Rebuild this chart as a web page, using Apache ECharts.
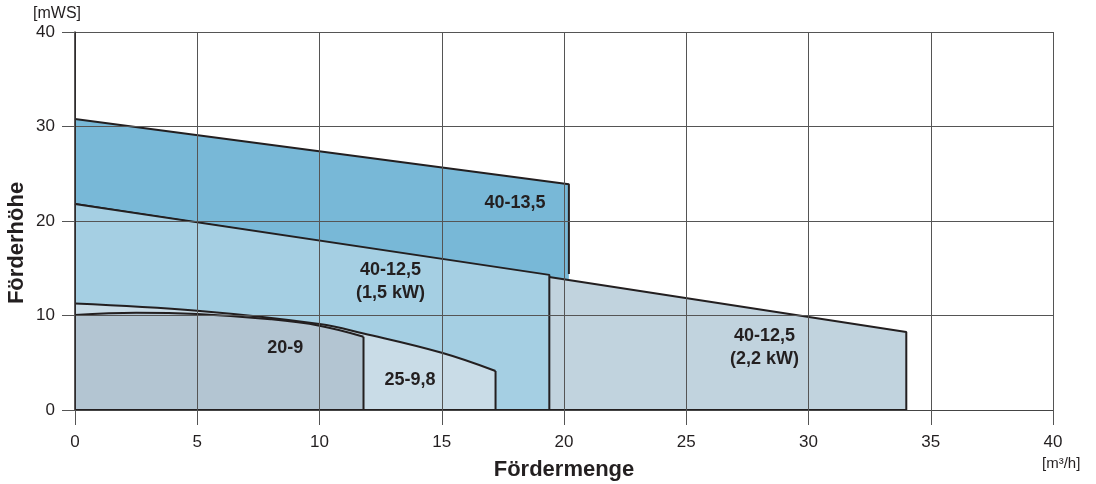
<!DOCTYPE html>
<html>
<head>
<meta charset="utf-8">
<script src="https://cdn.jsdelivr.net/npm/echarts@6/dist/echarts.min.js"></script>
<style>
  html, body { margin: 0; padding: 0; background: #fff; }
  #chart { width: 1096px; height: 484px; }
</style>
</head>
<body>
<div id="chart"></div>
<script>
// pump curves, [Q m3/h, H mWS]
const pump40_135 = [[0, 30.8], [20.2, 23.9], [20.2, 14.4]];
const pump40_125_22 = [[0, 21.8], [34.0, 8.25], [34.0, 0], [0, 0]];
const pump40_125_15 = [[0, 21.8], [19.4, 14.3], [19.4, 0], [0, 0]];
const pump25_98 = [[0, 11.27], [5, 10.5], [10, 9.1], [11.8, 8.1], [15, 6.06], [17.2, 4.13]];
const pump25_98_edge = [[17.2, 4.13], [17.2, 0], [0, 0]];
const pump20_9 = [[0, 10.05], [2.5, 10.3], [5, 10.16], [8, 9.6], [10, 8.92], [11.8, 7.76]];
const pump20_9_edge = [[11.8, 7.76], [11.8, 0], [0, 0]];

// pump names and where they sit
const tagNames = ["40-13,5", "40-12,5\n(2,2 kW)", "40-12,5\n(1,5 kW)", "25-9,8", "20-9"];
const tagCoords = [[18.0, 21.9], [28.2, 6.6], [12.9, 13.6], [13.7, 3.2], [8.6, 6.6]];

const xTicks = [0, 5, 10, 15, 20, 25, 30, 35, 40];
const yTicks = [0, 10, 20, 30, 40];

const font = "'Liberation Sans', Arial, sans-serif";
const ink = "#231f20";

function area(name, data, color, z, smooth) {
  return {
    name: name,
    type: "line",
    data: data,
    smooth: smooth ? 0.4 : false,
    symbol: "none",
    lineStyle: { color: ink, width: 2 },
    areaStyle: { color: color, opacity: 1 },
    z: z,
  };
}

function edge(data, z) {
  return {
    type: "line",
    data: data,
    symbol: "none",
    lineStyle: { color: ink, width: 2 },
    z: z,
  };
}

const chart = echarts.init(document.getElementById("chart"));
const option = {
  animation: false,
  grid: { left: 75, right: 43, top: 32, bottom: 74, outerBoundsMode: "none" },
  xAxis: {
    type: "value",
    min: xTicks[0],
    max: xTicks[xTicks.length - 1],
    interval: 5,
    z: 20,
    name: "Fördermenge",
    nameLocation: "middle",
    nameGap: 49,
    nameTextStyle: { fontFamily: font, fontWeight: "bold", fontSize: 22, color: ink },
    axisLine: { lineStyle: { color: "#444", width: 1 } },
    axisTick: { length: 15, lineStyle: { color: "#555", width: 1 } },
    axisLabel: { fontFamily: font, fontSize: 17, color: ink, margin: 24 },
    splitLine: { lineStyle: { color: "#555", width: 1 } },
  },
  yAxis: {
    type: "value",
    min: yTicks[0],
    max: yTicks[yTicks.length - 1],
    interval: 10,
    z: 20,
    axisLine: { show: true, lineStyle: { color: ink, width: 1.5 } },
    axisTick: { show: true, length: 13, lineStyle: { color: "#555", width: 1 } },
    axisLabel: { fontFamily: font, fontSize: 17, color: ink, margin: 20 },
    splitLine: { lineStyle: { color: "#555", width: 1 } },
  },
  graphic: [
    { type: "text", left: 33, top: 6, style: { text: "[mWS]", font: "16px " + font, fill: ink } },
    { type: "text", left: 1042, top: 456, style: { text: "[m³/h]", font: "15px " + font, fill: ink } },
    {
      type: "text",
      x: 17,
      y: 243,
      rotation: Math.PI / 2,
      style: { text: "Förderhöhe", font: "bold 22px " + font, fill: ink, align: "center", verticalAlign: "middle" },
    },
  ],
  series: [
    area("40-13,5", pump40_135, "#78b8d7", 2, false),
    area("40-12,5 (2,2 kW)", pump40_125_22, "#c1d3de", 3, false),
    area("40-12,5 (1,5 kW)", pump40_125_15, "#a5cfe3", 4, false),
    area("25-9,8", pump25_98, "#c9dce7", 5, true),
    edge(pump25_98_edge, 5),
    area("20-9", pump20_9, "#b3c5d2", 6, true),
    edge(pump20_9_edge, 6),
    {
      type: "scatter",
      z: 30,
      symbolSize: 0,
      silent: true,
      itemStyle: { opacity: 1 },
      data: tagCoords.map((c, i) => ({ value: c, name: tagNames[i] })),
      label: {
        show: true,
        position: "inside",
        formatter: (p) => p.name,
        color: ink,
        textBorderWidth: 0,
        fontFamily: font,
        fontWeight: "bold",
        fontSize: 18,
        lineHeight: 23,
        align: "center",
      },
    },
  ],
};
chart.setOption(option);
</script>
</body>
</html>
